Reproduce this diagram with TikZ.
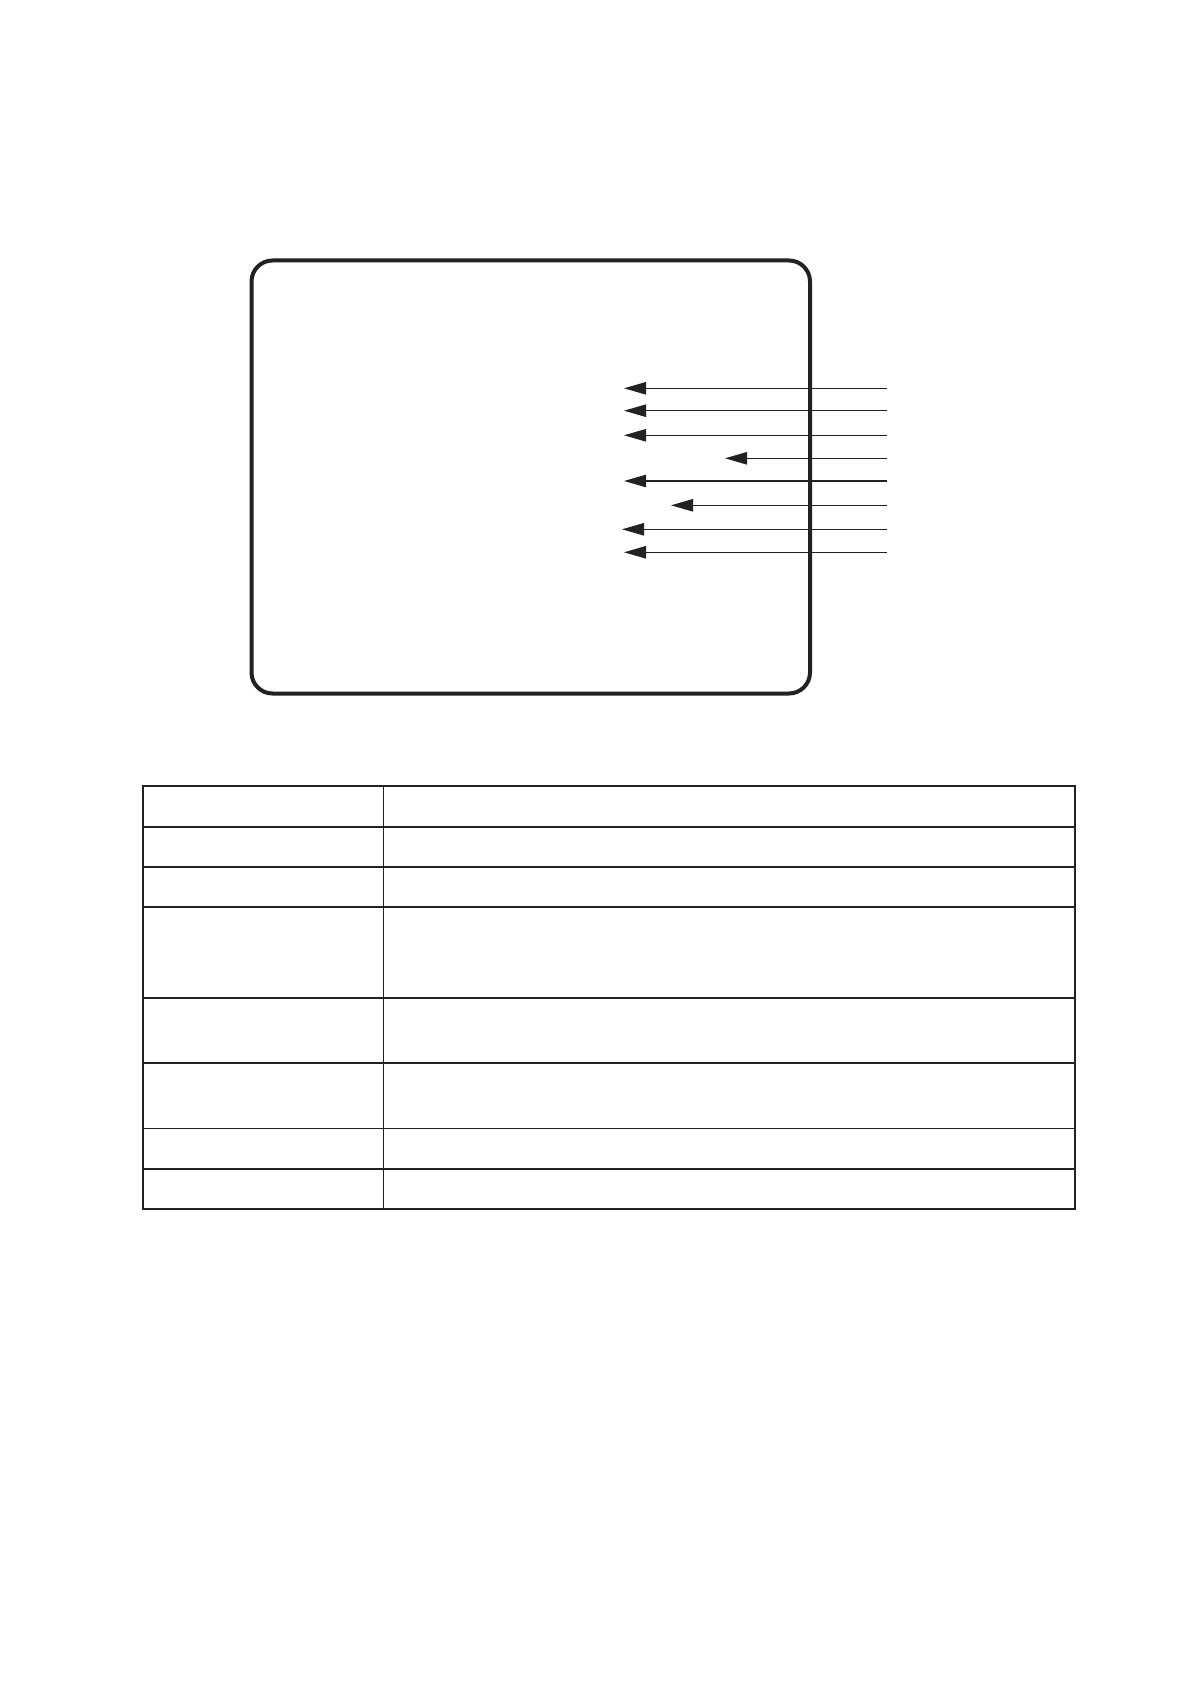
\documentclass[tikz,border=0pt]{standalone}
\usetikzlibrary{arrows.meta}
\definecolor{ink}{HTML}{222222}
\begin{document}
\begin{tikzpicture}[x=0.5pt,y=-0.5pt,
  screen/.style={draw=ink, line width=2pt, rounded corners=10.5pt},
  pointer/.style={draw=ink, line width=0.6pt, -{Triangle[length=11pt,width=6.2pt]}},
  thickrule/.style={draw=ink, line width=1.05pt},
  thinrule/.style={draw=ink, line width=0.75pt},
  colrule/.style={draw=ink, line width=0.85pt}]
\useasboundingbox (0,0) rectangle (1191,1684);
\fill[white] (0,0) rectangle (1191,1684);
% screen outline
\coordinate (scrNW) at (251.5,260.5);
\coordinate (scrSE) at (810,693.5);
\draw[screen] (scrNW) rectangle (scrSE);
% pointer arrows
\foreach \i/\yy/\tx in {1/388.3/624, 2/410.7/624, 3/435.3/624, 4/458.3/725,
                        5/481/624, 6/505.3/671, 7/529.3/622, 8/552.3/624}{
  \coordinate (src\i) at (887,\yy);
  \coordinate (tip\i) at (\tx,\yy);
  \draw[pointer] (src\i) -- (tip\i);
}
% table
\def\tl{142.8}\def\tm{383.4}\def\tr{1075}
\foreach \yy in {785.7,826.7,866.7,998,1062.7,1168.7,1209}{
  \draw[thickrule] (\tl-1,\yy) -- (\tr+1,\yy);
}
\foreach \yy in {907,1128.3}{
  \draw[thinrule] (\tl,\yy) -- (\tr,\yy);
}
\draw[colrule] (\tl,785.7) -- (\tl,1209);
\draw[colrule] (\tm,785.7) -- (\tm,1209);
\draw[colrule] (\tr,785.7) -- (\tr,1209);
\end{tikzpicture}
\end{document}
